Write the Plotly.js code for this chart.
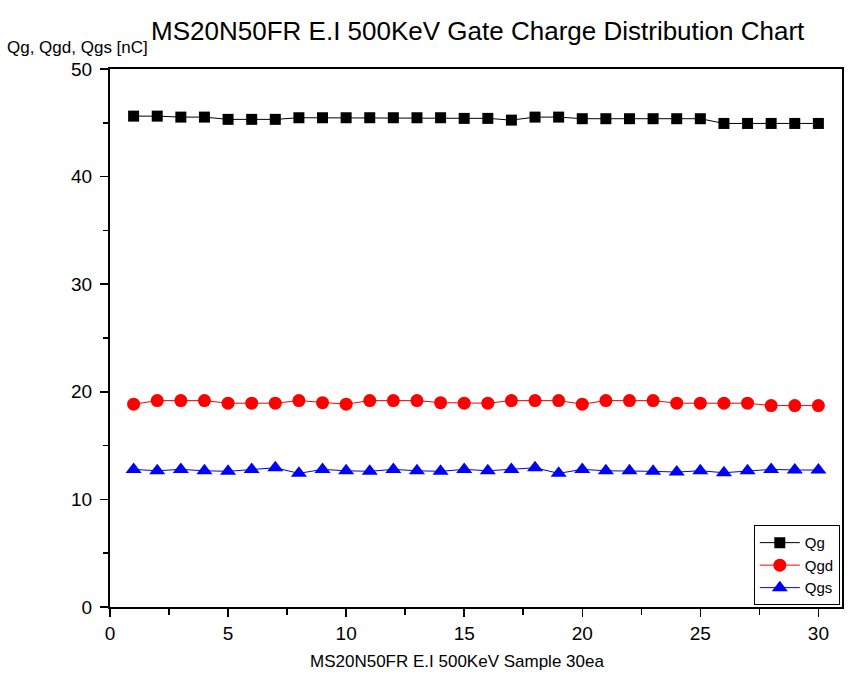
<!DOCTYPE html>
<html>
<head>
<meta charset="utf-8">
<script src="https://cdn.plot.ly/plotly-3.0.1.min.js"></script>
<style>html,body{margin:0;padding:0;background:#fff;}#chart{width:850px;height:680px;}</style>
</head>
<body>
<div id="chart"></div>
<script>
const samples = [1,2,3,4,5,6,7,8,9,10,11,12,13,14,15,16,17,18,19,20,21,22,23,24,25,26,27,28,29,30];
const qg  = [45.62,45.62,45.53,45.53,45.32,45.32,45.32,45.47,45.47,45.47,45.47,45.47,45.47,45.47,45.41,45.41,45.25,45.53,45.53,45.38,45.38,45.38,45.38,45.38,45.38,44.94,44.94,44.94,44.94,44.94];
const qgd = [18.85,19.18,19.18,19.18,18.94,18.94,18.94,19.18,18.99,18.85,19.18,19.18,19.18,18.99,18.94,18.94,19.18,19.18,19.18,18.85,19.18,19.18,19.18,18.94,18.94,18.94,18.94,18.72,18.72,18.72];
const qgs = [12.79,12.66,12.79,12.66,12.61,12.79,12.94,12.42,12.79,12.66,12.61,12.79,12.66,12.61,12.79,12.66,12.79,12.94,12.42,12.79,12.66,12.66,12.61,12.54,12.66,12.48,12.66,12.79,12.73,12.73];
const seriesNames = ["Qg","Qgd","Qgs"];
const chartTitle = "MS20N50FR E.I 500KeV Gate Charge Distribution Chart";
const xTitle = "MS20N50FR E.I 500KeV Sample 30ea";
const yTitle = "Qg, Qgd, Qgs [nC]";

const font = "Arial, 'Liberation Sans', sans-serif";
const traces = [
  {x: samples, y: qg, name: seriesNames[0], mode: "lines+markers",
   line: {color: "#000000", width: 1}, marker: {symbol: "square", size: 11, color: "#000000"}},
  {x: samples, y: qgd, name: seriesNames[1], mode: "lines+markers",
   line: {color: "#ff0000", width: 1}, marker: {symbol: "circle", size: 13, color: "#ff0000"}},
  {x: samples, y: qgs, name: seriesNames[2], mode: "lines+markers",
   line: {color: "#0000ff", width: 1}, marker: {symbol: "triangle-up", size: 14, color: "#0000ff"}}
];
const axisCommon = {
  showgrid: false, zeroline: false, showline: true, linecolor: "#000", linewidth: 2,
  mirror: true, ticks: "outside", ticklen: 8, tickwidth: 1.5, tickcolor: "#000",
  tickfont: {family: font, size: 19, color: "#000"}
};
const layout = {
  width: 850, height: 680,
  paper_bgcolor: "#fff", plot_bgcolor: "#fff",
  margin: {l: 110, r: 8, t: 69, b: 73},
  title: {text: chartTitle, x: 0.562, xanchor: "center", y: 0.955, yanchor: "middle",
          font: {family: font, size: 26, color: "#000"}},
  xaxis: Object.assign({}, axisCommon, {
    range: [0, 31], tick0: 0, dtick: 5,
    minor: {dtick: 2.5, ticks: "outside", ticklen: 6, tickwidth: 1.5, tickcolor: "#000"}
  }),
  yaxis: Object.assign({}, axisCommon, {
    range: [0, 50], tick0: 0, dtick: 10, ticklabelstandoff: 4,
    minor: {dtick: 5, ticks: "outside", ticklen: 5, tickwidth: 1.5, tickcolor: "#000"}
  }),
  showlegend: true,
  legend: {x: 0.997, xanchor: "right", y: 0.003, yanchor: "bottom", bgcolor: "#fff",
           bordercolor: "#000", borderwidth: 1, tracegroupgap: 0,
           font: {family: font, size: 15, color: "#000"}, itemwidth: 40},
  annotations: [
    {text: yTitle, xref: "paper", yref: "paper", x: -0.1435, y: 1.018, xanchor: "left", yanchor: "bottom",
     showarrow: false, font: {family: font, size: 17, color: "#000"}},
    {text: xTitle, xref: "paper", yref: "paper", x: 0.474, y: -0.102, xanchor: "center", yanchor: "middle",
     showarrow: false, font: {family: font, size: 17, color: "#000"}}
  ]
};
Plotly.newPlot("chart", traces, layout, {displayModeBar: false, staticPlot: true});
</script>
</body>
</html>
